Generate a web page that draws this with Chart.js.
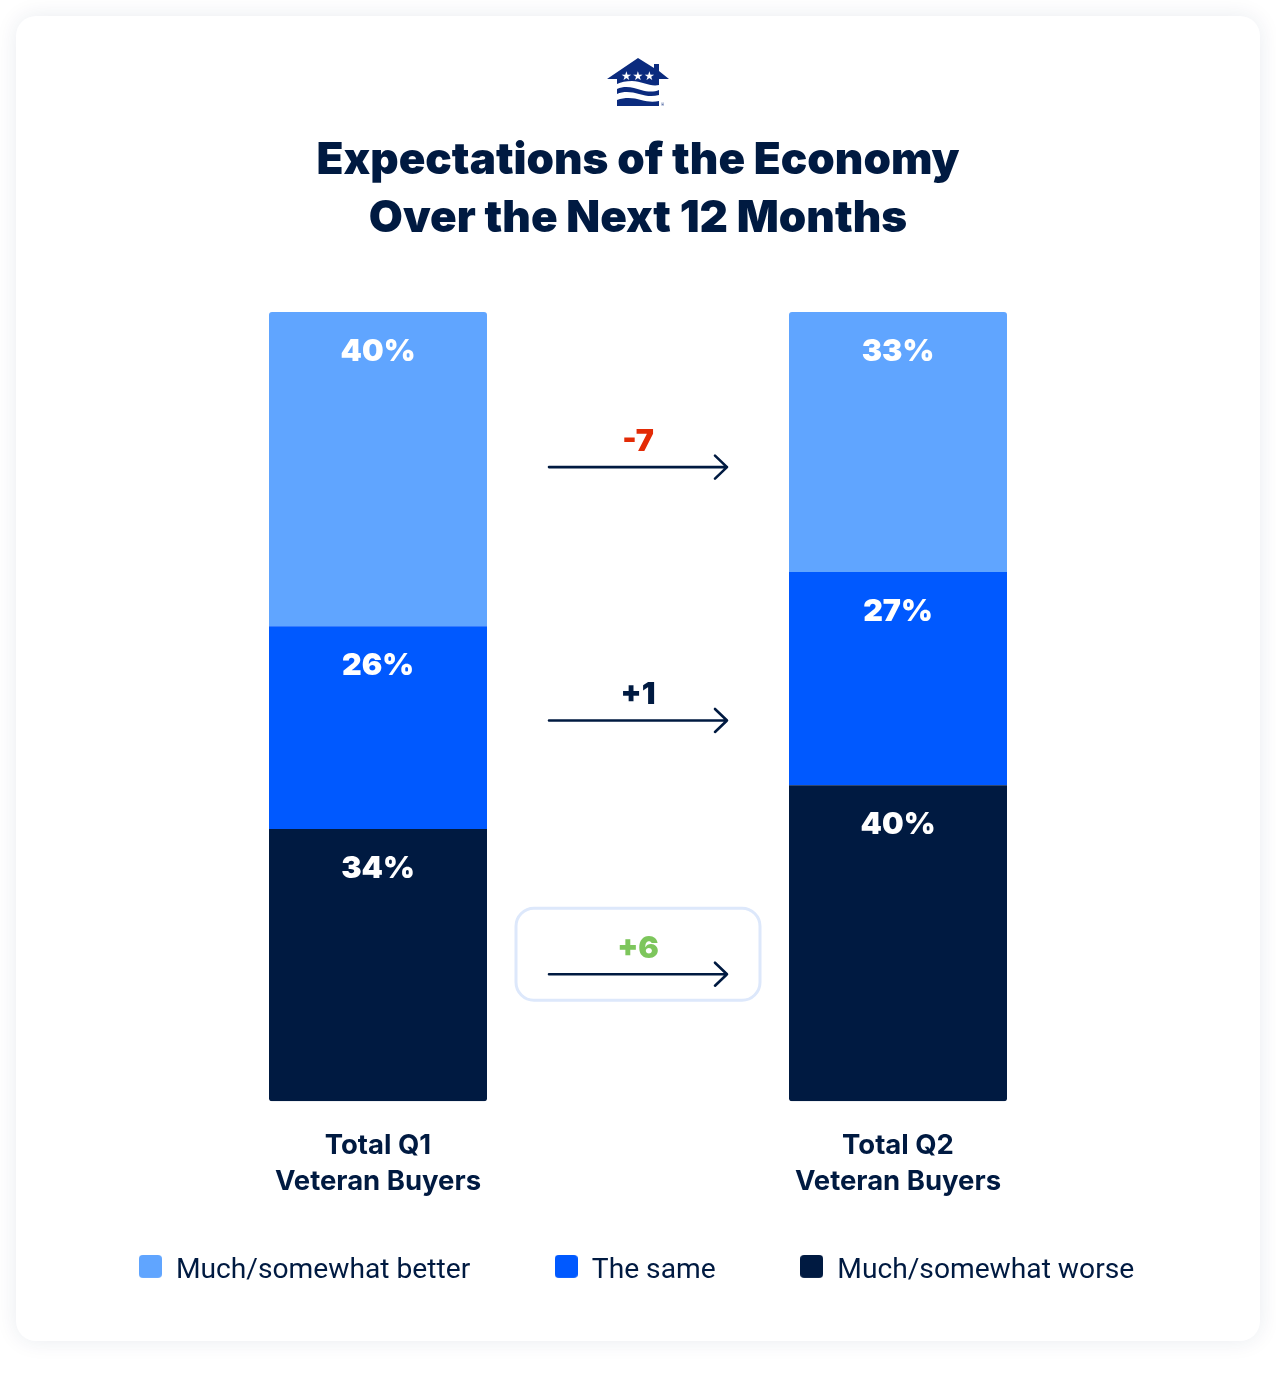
<!DOCTYPE html>
<html><head><meta charset="utf-8">
<style>
html,body{margin:0;padding:0;background:#fff;width:1276px;height:1382px;overflow:hidden}
#card{position:absolute;left:16px;top:16px;width:1244px;height:1325px;border-radius:20px;background:#fff;box-shadow:0 0 22px rgba(20,40,90,.09)}
#logo{position:absolute;left:600px;top:50px;width:76px;height:64px}
canvas{position:absolute;left:0;top:0}
</style>
<script src="https://cdn.jsdelivr.net/npm/chart.js@4"></script>
</head><body>
<div id="card"></div>
<canvas id="c" width="1276" height="1382"></canvas>
<svg id="logo" viewBox="600 50 76 64" xmlns="http://www.w3.org/2000/svg">
<path fill="#0B2B7E" d="M638 58 L654 68 V64 H659 V71 L669 79 L659 79 V85 C650 87 642 81 632 81 C626 81 621 82 617 84 V79 L607 79 Z"/>
<g fill="#fff" font-family="DejaVu Sans" font-size="12" text-anchor="middle"><text x="626.5" y="80">★</text><text x="638" y="80">★</text><text x="649.5" y="80">★</text></g>
<path fill="#0B2B7E" d="M617 89 C626 85 634 88 641 90 C648 92 654 92 659 90 V95 C652 97 646 96 639 94 C632 92 624 91 617 94 Z"/>
<path fill="#0B2B7E" d="M617 100 C626 97 634 98 641 100 C648 102 654 102 659 101 V106 H617 Z"/>
<text x="662.5" y="106" fill="#0B2B7E" font-family="Roboto" font-size="4" text-anchor="middle">®</text>
</svg>
<script>
const categories = [["Total Q1","Veteran Buyers"],["Total Q2","Veteran Buyers"]];
const seriesNames = ["Much/somewhat worse","The same","Much/somewhat better"];
const worse  = [34.5, 40.05];
const same   = [25.7, 27];
const better = [39.8, 32.95];
const worseLabels  = ["34%","40%"];
const sameLabels   = ["26%","27%"];
const betterLabels = ["40%","33%"];
const deltas = ["-7","+1","+6"];
const title = ["Expectations of the Economy","Over the Next 12 Months"];

const NAVY="#001A41", HEAD='Inter';
const deltaColors=["#E32B06",NAVY,"#7DC65C"];
const allLabels=[worseLabels,sameLabels,betterLabels];

function swatch(color){
  const s=document.createElement('canvas');s.width=23;s.height=33;
  const g=s.getContext('2d');g.fillStyle=color;g.beginPath();g.roundRect(0,0,23,23,4);g.fill();
  return s;
}

const overlay={id:'overlay',
 afterLayout(chart){
   const l=chart.legend;
   l.top-=25.5; l.bottom-=25.5; l.left-=1.5; l.right-=1.5;
 },
 afterDatasetsDraw(chart){
  const {ctx,chartArea:a}=chart;
  ctx.save();
  ctx.textAlign='center';ctx.textBaseline='middle';
  ctx.fillStyle='#fff';ctx.font='900 30.5px '+HEAD;
  allLabels.forEach((labs,d)=>{
    chart.getDatasetMeta(d).data.forEach((el,i)=>ctx.fillText(labs[i],el.x,el.y+39.5));
  });
  const cx=(a.left+a.right)/2;
  const x0=cx-89,x1=cx+89;
  const h=a.bottom-a.top;
  const ys=[a.top+h*.1965,a.top+h*.5175,a.top+h*.839];
  const yb=ys[2];
  ctx.strokeStyle='#DDE8FB';ctx.lineWidth=3;
  ctx.beginPath();ctx.roundRect(cx-122,yb-66,244,92,18);ctx.stroke();
  deltas.forEach((t,i)=>{
    const y=ys[i];
    ctx.strokeStyle=NAVY;ctx.lineWidth=2.6;ctx.lineCap='round';ctx.lineJoin='round';
    ctx.beginPath();ctx.moveTo(x0,y);ctx.lineTo(x1,y);
    ctx.moveTo(x1-12,y-11.5);ctx.lineTo(x1,y);ctx.lineTo(x1-12,y+11.5);ctx.stroke();
    ctx.fillStyle=deltaColors[i];ctx.font='900 30.5px '+HEAD;
    ctx.fillText(t,cx,y-25.5);
  });
  ctx.restore();
 }};

const hiddenAxis=(position)=>({display:true,position,stacked:true,min:0,max:100,
  grid:{display:false},border:{display:false},ticks:{display:false},
  afterFit(s){s.width=88;}});

new Chart(document.getElementById('c'),{
 type:'bar',
 data:{labels:categories,datasets:[
  {label:seriesNames[0],data:worse,backgroundColor:NAVY,borderRadius:{bottomLeft:3,bottomRight:3,topLeft:0,topRight:0},borderSkipped:false},
  {label:seriesNames[1],data:same,backgroundColor:"#0059FF",borderRadius:0},
  {label:seriesNames[2],data:better,backgroundColor:"#60A5FF",borderRadius:{topLeft:3,topRight:3,bottomLeft:0,bottomRight:0},borderSkipped:false}
 ]},
 plugins:[overlay],
 options:{
  responsive:false,animation:false,devicePixelRatio:1,
  layout:{padding:{left:30,right:30,top:0,bottom:61}},
  datasets:{bar:{barPercentage:218/520,categoryPercentage:1}},
  scales:{
   x:{stacked:true,grid:{display:false},border:{display:false},
      ticks:{color:NAVY,font:{family:'Inter',size:27.5,weight:'700',lineHeight:36/27.5},padding:18,maxRotation:0,autoSkip:false},
      afterFit(s){s.height=97;}},
   y:hiddenAxis('left'),
   y2:hiddenAxis('right')
  },
  plugins:{
   tooltip:{enabled:false},
   title:{display:true,text:title,color:NAVY,font:{family:HEAD,size:44,weight:'900',lineHeight:58/44},padding:{top:132,bottom:64}},
   legend:{position:'bottom',reverse:true,
     labels:{color:NAVY,font:{family:'Roboto',size:28.2,weight:'400'},boxWidth:23,boxHeight:23,usePointStyle:true,padding:84.5,
       generateLabels(chart){
         const items=Chart.defaults.plugins.legend.labels.generateLabels(chart);
         items.forEach(it=>{it.pointStyle=swatch(it.fillStyle);});
         return items;
       }}}
  }
 }
});
</script>
</body></html>
